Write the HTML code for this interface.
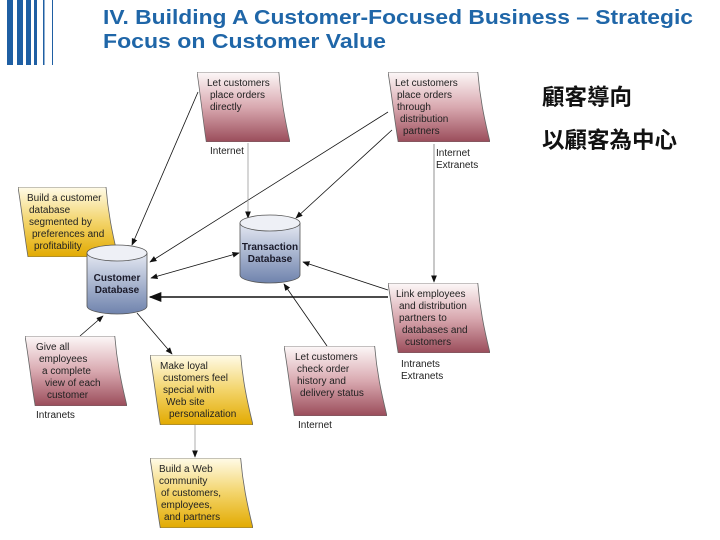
<!DOCTYPE html>
<html><head><meta charset="utf-8"><style>
html,body{margin:0;padding:0;background:#fff;}
svg{display:block;}
.t{font-family:"Liberation Sans",sans-serif;font-size:10px;fill:#222;}
.b{font-family:"Liberation Sans",sans-serif;font-size:10px;font-weight:bold;fill:#1a1a2a;}
.h{font-family:"Liberation Sans",sans-serif;font-size:20px;font-weight:bold;fill:#1f66a8;}
.c{font-family:"Liberation Sans","Noto Sans CJK TC",sans-serif;font-size:22.5px;fill:#111;font-weight:bold;}
</style></head><body>
<svg width="720" height="540" viewBox="0 0 720 540" xmlns="http://www.w3.org/2000/svg">
<defs>
<linearGradient id="pk" x1="0" y1="0" x2="0" y2="1"><stop offset="0" stop-color="#fdf8f8"/><stop offset="0.5" stop-color="#d9a9b0"/><stop offset="1" stop-color="#9a4c5a"/></linearGradient>
<linearGradient id="yl" x1="0" y1="0" x2="0" y2="1"><stop offset="0" stop-color="#fffbe8"/><stop offset="0.5" stop-color="#f3d46a"/><stop offset="1" stop-color="#e2aa00"/></linearGradient>
<linearGradient id="bl" x1="0" y1="0" x2="0" y2="1"><stop offset="0" stop-color="#e4e8f2"/><stop offset="1" stop-color="#6f83ad"/></linearGradient>
<marker id="a" viewBox="0 0 10 10" refX="9" refY="5" markerWidth="9" markerHeight="9" orient="auto-start-reverse"><path d="M0,1 L10,5 L0,9 Z" fill="#111"/></marker>
<symbol id="doc" viewBox="0 0 100 70" preserveAspectRatio="none"><path d="M0,0 H88 C90,25 94,45 100,70 H10 C6,45 4,25 0,0 Z" stroke="#666" stroke-width="0.8"/></symbol>
</defs>
<g fill="#1f5fa3">
<rect x="7" y="0" width="6" height="65"/><rect x="17" y="0" width="6" height="65"/><rect x="26" y="0" width="5" height="65"/><rect x="34" y="0" width="3" height="65"/><rect x="43" y="0" width="1.5" height="65"/><rect x="52" y="0" width="1" height="65"/>
</g>
<text class="h" x="103" y="24" textLength="590" lengthAdjust="spacingAndGlyphs">IV. Building A Customer-Focused Business – Strategic</text>
<text class="h" x="103" y="48" textLength="283" lengthAdjust="spacingAndGlyphs">Focus on Customer Value</text>
<text class="c" x="542" y="105">顧客導向</text>
<text class="c" x="542" y="148">以顧客為中心</text>

<g stroke="#111" stroke-width="0.8" fill="none">
<line x1="198" y1="92" x2="132" y2="245" marker-end="url(#a)"/>
<line x1="388" y1="112" x2="150" y2="262" marker-end="url(#a)"/>
<line x1="392" y1="130" x2="296" y2="218" marker-end="url(#a)"/>
<line x1="248" y1="143" x2="248" y2="218" stroke="#999" marker-end="url(#a)"/>
<line x1="434" y1="144" x2="434" y2="282" stroke="#777" marker-end="url(#a)"/>
<line x1="151" y1="278" x2="239" y2="253" marker-start="url(#a)" marker-end="url(#a)"/>
<line x1="388" y1="290" x2="303" y2="262" marker-end="url(#a)"/>
<line x1="388" y1="297" x2="150" y2="297" stroke-width="1.4" marker-end="url(#a)"/>
<line x1="327" y1="346" x2="284" y2="284" marker-end="url(#a)"/>
<line x1="80" y1="336" x2="103" y2="316" marker-end="url(#a)"/>
<line x1="137" y1="313" x2="172" y2="354" marker-end="url(#a)"/>
<line x1="195" y1="425" x2="195" y2="457" stroke="#999" marker-end="url(#a)"/>
</g>

<use href="#doc" x="197" y="72" width="93" height="70" fill="url(#pk)"/>
<use href="#doc" x="388" y="72" width="102" height="70" fill="url(#pk)"/>
<use href="#doc" x="18" y="187" width="100" height="70" fill="url(#yl)"/>
<use href="#doc" x="388" y="283" width="102" height="70" fill="url(#pk)"/>
<use href="#doc" x="25" y="336" width="102" height="70" fill="url(#pk)"/>
<use href="#doc" x="150" y="355" width="103" height="70" fill="url(#yl)"/>
<use href="#doc" x="284" y="346" width="103" height="70" fill="url(#pk)"/>
<use href="#doc" x="150" y="458" width="103" height="70" fill="url(#yl)"/>

<g stroke="#555" stroke-width="0.8">
<path d="M87,253 V306 A30,8 0 0 0 147,306 V253" fill="url(#bl)"/>
<ellipse cx="117" cy="253" rx="30" ry="8" fill="#eef0f6"/>
<path d="M240,223 V275 A30,8 0 0 0 300,275 V223" fill="url(#bl)"/>
<ellipse cx="270" cy="223" rx="30" ry="8" fill="#eef0f6"/>
</g>
<text class="b" x="117" y="281" text-anchor="middle">Customer</text>
<text class="b" x="117" y="293" text-anchor="middle">Database</text>
<text class="b" x="270" y="250" text-anchor="middle">Transaction</text>
<text class="b" x="270" y="262" text-anchor="middle">Database</text>

<g class="t">
<text x="207" y="86">Let customers</text><text x="210" y="98">place orders</text><text x="210" y="110">directly</text>
<text x="395" y="86">Let customers</text><text x="397" y="98">place orders</text><text x="397" y="110">through</text><text x="400" y="122">distribution</text><text x="403" y="134">partners</text>
<text x="27" y="201">Build a customer</text><text x="29" y="213">database</text><text x="29" y="225">segmented by</text><text x="32" y="237">preferences and</text><text x="34" y="249">profitability</text>
<text x="396" y="297">Link employees</text><text x="399" y="309">and distribution</text><text x="399" y="321">partners to</text><text x="402" y="333">databases and</text><text x="405" y="345">customers</text>
<text x="36" y="350">Give all</text><text x="39" y="362">employees</text><text x="42" y="374">a complete</text><text x="45" y="386">view of each</text><text x="47" y="398">customer</text>
<text x="160" y="369">Make loyal</text><text x="163" y="381">customers feel</text><text x="163" y="393">special with</text><text x="166" y="405">Web site</text><text x="169" y="417">personalization</text>
<text x="295" y="360">Let customers</text><text x="297" y="372">check order</text><text x="297" y="384">history and</text><text x="300" y="396">delivery status</text>
<text x="159" y="472">Build a Web</text><text x="159" y="484">community</text><text x="161" y="496">of customers,</text><text x="161" y="508">employees,</text><text x="164" y="520">and partners</text>
<text x="210" y="154">Internet</text>
<text x="436" y="156">Internet</text><text x="436" y="168">Extranets</text>
<text x="401" y="367">Intranets</text><text x="401" y="379">Extranets</text>
<text x="36" y="418">Intranets</text>
<text x="298" y="428">Internet</text>
</g>
</svg>
</body></html>
